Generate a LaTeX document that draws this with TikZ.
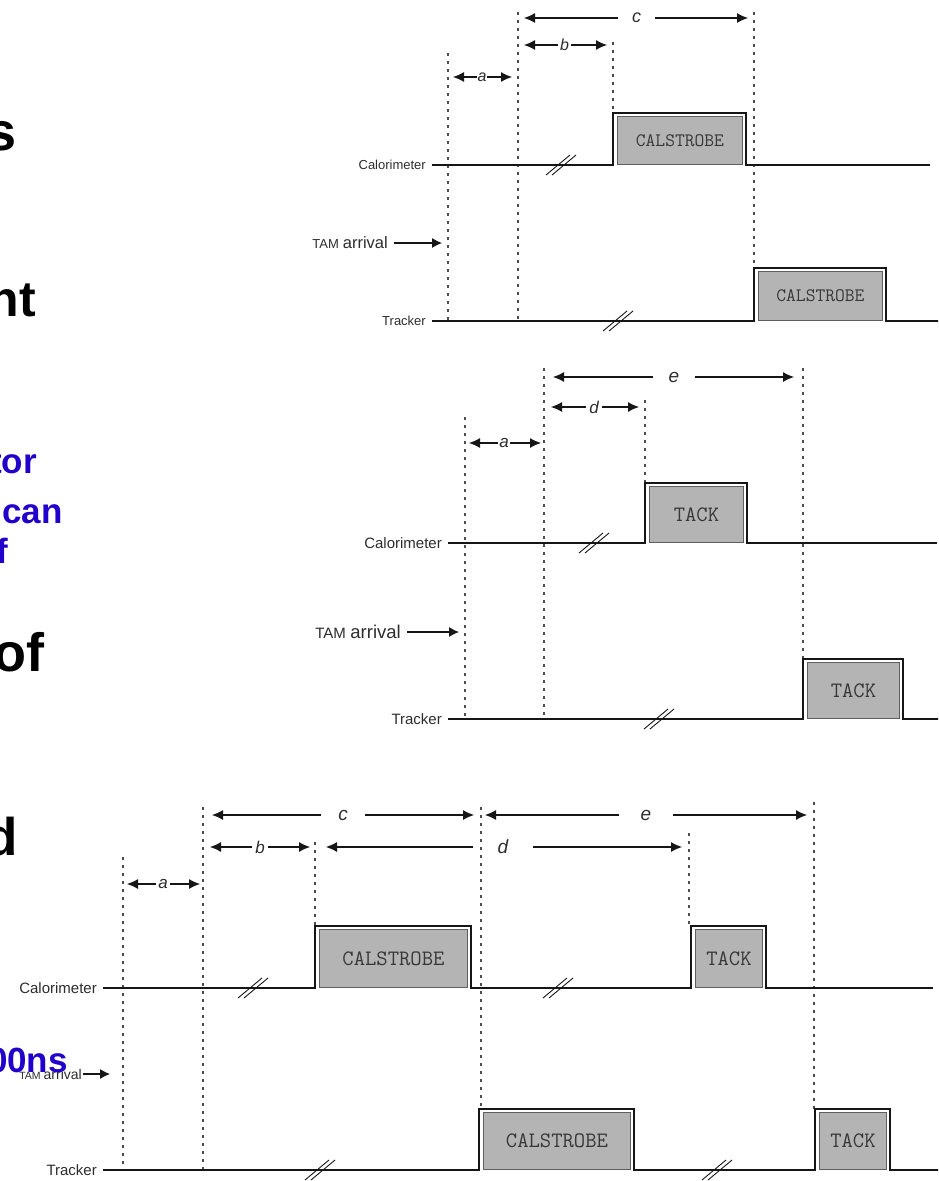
\documentclass[tikz,border=0pt]{standalone}
\usepackage{fontspec}
\setmainfont{Liberation Sans}
\usetikzlibrary{arrows.meta}

\definecolor{bluecol}{RGB}{34,0,204}
\definecolor{ink}{RGB}{22,22,22}
\definecolor{labelgray}{RGB}{45,45,45}
\definecolor{boxgray}{RGB}{180,180,180}
\definecolor{boxedge}{RGB}{95,95,95}

\newcommand\fsz[1]{\fontsize{#1}{#1}\selectfont}
\newcommand\monofam{\ttfamily\addfontfeature{FakeBold=0.6}}

\tikzset{
  sigline/.style={draw=ink, line width=2.2pt, line join=miter},
  guide/.style={draw=black!70, line width=1.4pt, dash pattern=on 2.5pt off 5.5pt},
  dimline/.style={draw=ink, line width=1.1pt, -{Latex[length=11pt,width=10pt]}},
  dimlabel/.style={inner sep=0pt, minimum height=10pt, text=labelgray},
  siglabel/.style={anchor=east, inner xsep=6pt, inner ysep=0pt, text=labelgray},
  tamarrow/.style={draw=ink, line width=1.1pt, -{Latex[length=10pt,width=10pt]}},
  pbox/.style={draw=boxedge, fill=boxgray, line width=0.9pt, inner sep=0pt, text=black!78},
  brk/.style={draw=ink, line width=0.9pt},
  blacktext/.style={anchor=base east, inner sep=0pt, text=black},
  bluetext/.style={anchor=base east, inner sep=0pt, font=\bfseries\fsz{35}, text=bluecol}
}

% dimension arrow: name, y, x left tip, x right tip, label x, gap width, label, font size
\newcommand\dimspan[8]{%
  \coordinate (#1-l) at (#3,#2);
  \coordinate (#1-r) at (#4,#2);
  \node[dimlabel, minimum width=#6pt, font=\itshape\fsz{#8}] (#1) at (#5,#2) {#7};
  \draw[dimline] (#1) -- (#1-l);
  \draw[dimline] (#1) -- (#1-r);
}

% shaded pulse body: name, x rise, x fall, y top, y base, font size, text
\newcommand\sigpulse[7]{%
  \node[pbox, font=\monofam\fsz{#6}, minimum width={(#3-#2-8)*1pt},
        minimum height={(#5-#4-4.5)*1pt}, anchor=south west] (#1) at ({#2+4},{#5-0.5}) {#7};
}

% time-break mark on a signal line: name, x, y
\newcommand\sigbreak[3]{%
  \coordinate (#1) at (#2,#3);
  \draw[brk] ([shift={(-15pt,-10pt)}]#1) -- ([shift={(9pt,10pt)}]#1)
             ([shift={(-9pt,-10pt)}]#1) -- ([shift={(15pt,10pt)}]#1);
}

\begin{document}
\begin{tikzpicture}[x=1pt,y=-1pt]
\useasboundingbox (0,0) rectangle (938,1181);
\fill[white] (0,0) rectangle (938,1181);
\begin{scope}
\clip (0,0) rectangle (938,1181);

% ---------------- CALSTROBE timing ----------------
\draw[guide] (448,53) -- (448,321);
\draw[guide] (518,12) -- (518,321);
\draw[guide] (613,42) -- (613,112);
\draw[guide] (754,12) -- (754,268);

\dimspan{c1}{18}{524}{748}{636.5}{37}{c}{18}
\dimspan{b1}{45}{524}{607}{564.5}{13}{b}{16}
\dimspan{a1}{77}{453}{512}{482}{10}{a}{16}

\node[siglabel, font=\fsz{13}] (cal1) at (432,165) {Calorimeter};
\node[siglabel, font=\fsz{13}] (trk1) at (432,321) {Tracker};
\node[siglabel] (tam1) at (394,243) {{\fsz{13}TAM}\hspace{4pt}{\fsz{16.5}arrival}};
\coordinate (tam1-tip) at (442,243);
\draw[tamarrow] (tam1) -- (tam1-tip);

\draw[sigline] (cal1.east) -- (613,165) -- (613,113) -- (746,113) -- (746,165) -- (930,165);
\sigpulse{p1c}{613}{746}{113}{165}{19}{CALSTROBE}
\sigbreak{k1c}{561}{165}

\draw[sigline] (trk1.east) -- (754,321) -- (754,268) -- (886,268) -- (886,321) -- (940,321);
\sigpulse{p1t}{754}{886}{268}{321}{19}{CALSTROBE}
\sigbreak{k1t}{618}{321}

% ---------------- TACK timing ----------------
\draw[guide] (465,417) -- (465,719);
\draw[guide] (544,368) -- (544,719);
\draw[guide] (645,400) -- (645,483);
\draw[guide] (803,368) -- (803,659);

\dimspan{e2}{377}{553}{794}{674}{41}{e}{19}
\dimspan{d2}{407}{551}{639}{594}{16}{d}{17}
\dimspan{a2}{443}{469}{541}{504}{12}{a}{17}

\node[siglabel, font=\fsz{15}] (cal2) at (448,543) {Calorimeter};
\node[siglabel, font=\fsz{15}] (trk2) at (448,719) {Tracker};
\node[siglabel] (tam2) at (407,632) {{\fsz{15}TAM}\hspace{4.5pt}{\fsz{18.5}arrival}};
\coordinate (tam2-tip) at (459,632);
\draw[tamarrow] (tam2) -- (tam2-tip);

\draw[sigline] (cal2.east) -- (645,543) -- (645,483) -- (747,483) -- (747,543) -- (937,543);
\sigpulse{p2c}{645}{747}{483}{543}{22}{TACK}
\sigbreak{k2c}{594}{543}

\draw[sigline] (trk2.east) -- (803,719) -- (803,659) -- (903,659) -- (903,719) -- (940,719);
\sigpulse{p2t}{803}{903}{659}{719}{22}{TACK}
\sigbreak{k2t}{659}{719}

% ---------------- combined timing ----------------
\draw[guide] (123,857) -- (123,1170);
\draw[guide] (203,807) -- (203,1170);
\draw[guide] (315,842) -- (315,926);
\draw[guide] (481,807) -- (481,1109);
\draw[guide] (689,833) -- (689,926);
\draw[guide] (814,802) -- (814,1109);

\dimspan{c3}{815}{212}{474}{343}{43}{c}{19}
\dimspan{e3}{815}{485}{807}{646}{53}{e}{19}
\dimspan{b3}{847}{210}{310}{260}{16}{b}{17}
\dimspan{d3}{847}{326}{682}{503}{60}{d}{19}
\dimspan{a3}{884}{127}{200}{163}{13}{a}{17}

\node[siglabel, font=\fsz{15}] (cal3) at (103,988) {Calorimeter};
\node[siglabel, font=\fsz{15}] (trk3) at (103,1170) {Tracker};
\node[siglabel, inner xsep=1pt] (tam3) at (83,1074) {{\fsz{10.5}TAM}\hspace{3pt}{\fsz{14}arrival}};
\coordinate (tam3-tip) at (110,1074);
\draw[tamarrow] (tam3) -- (tam3-tip);

\draw[sigline] (cal3.east) -- (315,988) -- (315,926) -- (471,926) -- (471,988)
  -- (691,988) -- (691,926) -- (766,926) -- (766,988) -- (933,988);
\sigpulse{p3c1}{315}{471}{926}{988}{22}{CALSTROBE}
\sigpulse{p3c2}{691}{766}{926}{988}{22}{TACK}
\sigbreak{k3c1}{253}{988}
\sigbreak{k3c2}{558}{988}

\draw[sigline] (trk3.east) -- (479,1170) -- (479,1109) -- (634,1109) -- (634,1170)
  -- (815,1170) -- (815,1109) -- (890,1109) -- (890,1170) -- (940,1170);
\sigpulse{p3t1}{479}{634}{1109}{1170}{22}{CALSTROBE}
\sigpulse{p3t2}{815}{890}{1109}{1170}{22}{TACK}
\sigbreak{k3t1}{320}{1170}
\sigbreak{k3t2}{717}{1170}

% ---------------- slide text at the left edge ----------------
\node[blacktext, font=\bfseries\fsz{54}] (w1) at (17,150) {s};
\node[blacktext, font=\bfseries\fsz{50}] (w2) at (36,316) {nt};
\node[blacktext, font=\bfseries\fsz{54}] (w3) at (45,671) {of};
\node[blacktext, font=\bfseries\fsz{53}] (w4) at (18,855) {d};
\node[bluetext] (w5) at (37,473) {tor};
\node[bluetext] (w6) at (63,523) {can};
\node[bluetext] (w7) at (8,563) {f};
\node[bluetext] (w8) at (68,1072) {00ns};
\end{scope}
\end{tikzpicture}
\end{document}
